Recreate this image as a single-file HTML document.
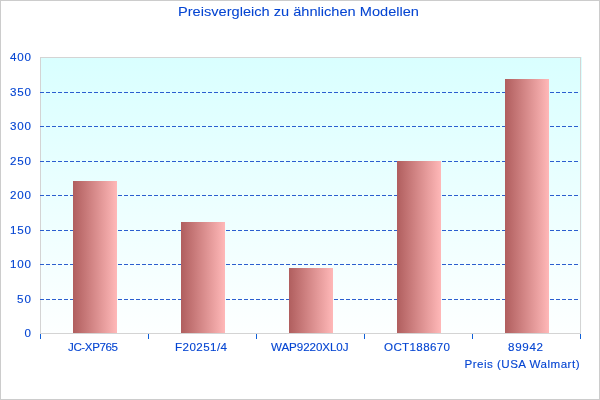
<!DOCTYPE html>
<html><head><meta charset="utf-8">
<style>
html,body{margin:0;padding:0;background:#fff;width:600px;height:400px;overflow:hidden}
svg{display:block;will-change:transform}
text{font-family:"Liberation Sans",sans-serif;fill:#0545d2;stroke:#0545d2;stroke-width:0.12px}
</style></head>
<body>
<svg width="600" height="400" viewBox="0 0 600 400" >
<defs>
<linearGradient id="bg" x1="0" y1="0" x2="0" y2="1">
<stop offset="0" stop-color="#d9ffff"/>
<stop offset="1" stop-color="#fdffff"/>
</linearGradient>
<linearGradient id="bar" x1="0" y1="0" x2="1" y2="0">
<stop offset="0" stop-color="#b05e5e"/>
<stop offset="1" stop-color="#ffb8b8"/>
</linearGradient>
</defs>
<rect x="0" y="0" width="600" height="400" fill="#fff"/>
<rect x="0.5" y="0.5" width="599" height="399" fill="none" stroke="#cccccc"/>
<rect x="41" y="57" width="541" height="276" fill="url(#bg)"/>
<rect x="40.5" y="57.5" width="540" height="276" fill="none" stroke="#d4d4d4"/>
<g stroke="#2b5fcf" stroke-dasharray="4 2">
<line x1="40" y1="92.5" x2="580" y2="92.5"/>
<line x1="40" y1="126.5" x2="580" y2="126.5"/>
<line x1="40" y1="161.5" x2="580" y2="161.5"/>
<line x1="40" y1="195.5" x2="580" y2="195.5"/>
<line x1="40" y1="230.5" x2="580" y2="230.5"/>
<line x1="40" y1="264.5" x2="580" y2="264.5"/>
<line x1="40" y1="299.5" x2="580" y2="299.5"/>
</g>
<g fill="url(#bar)">
<rect x="73" y="181" width="44" height="152"/>
<rect x="181" y="222" width="44" height="111"/>
<rect x="289" y="268" width="44" height="65"/>
<rect x="397" y="161" width="44" height="172"/>
<rect x="505" y="79" width="44" height="254"/>
</g>
<g stroke="#1060d8">
<line x1="40.5" y1="334" x2="40.5" y2="339"/>
<line x1="148.5" y1="334" x2="148.5" y2="339"/>
<line x1="256.5" y1="334" x2="256.5" y2="339"/>
<line x1="364.5" y1="334" x2="364.5" y2="339"/>
<line x1="472.5" y1="334" x2="472.5" y2="339"/>
<line x1="580.5" y1="334" x2="580.5" y2="339"/>
</g>
<g font-size="11.6" text-anchor="end">
<text x="31" y="61" textLength="21" lengthAdjust="spacing">400</text>
<text x="31" y="96" textLength="21" lengthAdjust="spacing">350</text>
<text x="31" y="130" textLength="21" lengthAdjust="spacing">300</text>
<text x="31" y="165" textLength="21" lengthAdjust="spacing">250</text>
<text x="31" y="199" textLength="21" lengthAdjust="spacing">200</text>
<text x="31" y="234" textLength="21" lengthAdjust="spacing">150</text>
<text x="31" y="268" textLength="21" lengthAdjust="spacing">100</text>
<text x="31" y="303" textLength="14" lengthAdjust="spacing">50</text>
<text x="31" y="337" textLength="7" lengthAdjust="spacing">0</text>
</g>
<g font-size="11.6">
<text x="68" y="351" textLength="50" lengthAdjust="spacing">JC-XP765</text>
<text x="175" y="351" textLength="52" lengthAdjust="spacing">F20251/4</text>
<text x="271" y="351" textLength="77.5" lengthAdjust="spacing">WAP9220XL0J</text>
<text x="384" y="351" textLength="66" lengthAdjust="spacing">OCT188670</text>
<text x="508" y="351" textLength="35" lengthAdjust="spacing">89942</text>
<text x="464.5" y="368" textLength="115" lengthAdjust="spacing">Preis (USA Walmart)</text>
</g>
<text x="178" y="15.8" font-size="12.8" style="stroke-width:0.05px" textLength="241" lengthAdjust="spacingAndGlyphs">Preisvergleich zu ähnlichen Modellen</text>
</svg>
</body></html>
